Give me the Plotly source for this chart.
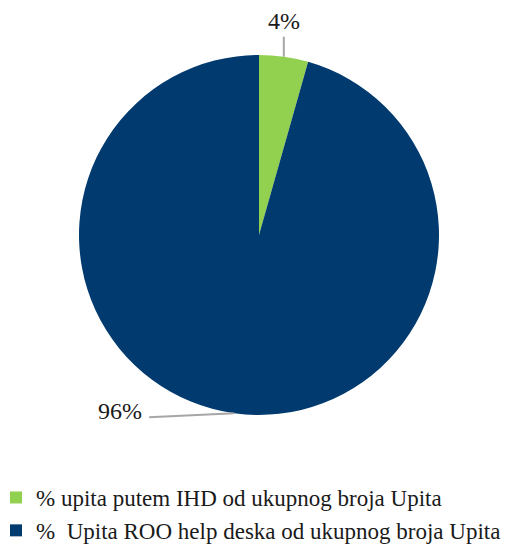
import math
import plotly.graph_objects as go

labels = ["% upita putem IHD od ukupnog broja Upita",
          "%\u00a0\u00a0Upita ROO help deska od ukupnog broja Upita"]
values = [4.4, 95.6]
text_labels = ["4%", "96%"]
colors = ["#92D050", "#003A6E"]

# page body has an 8px margin, so the plot is laid out in its own coordinates
W, H = 508, 544
cx, cy, R = 251, 227, 180
FONT = "Liberation Serif"
TXT = "#1a1a1a"

fig = go.Figure(go.Pie(
    labels=labels, values=values, sort=False, direction="clockwise", rotation=0,
    marker=dict(colors=colors, line=dict(width=0)),
    textinfo="none", hoverinfo="label+percent",
    domain=dict(x=[(cx - R) / W, (cx + R) / W], y=[1 - (cy + R) / H, 1 - (cy - R) / H]),
))

def px(x):
    return x / W

def py(y):
    return 1 - y / H

total = sum(values)
cum = 0
shapes, annotations = [], []
for i, v in enumerate(values):
    mid = (cum + v / 2) / total * 2 * math.pi
    cum += v
    ex = cx + R * math.sin(mid)
    ey = cy - R * math.cos(mid)
    if i == 0:
        lx, ly = ex, ey - 20
        annotations.append(dict(x=px(lx), y=py(ly - 1), xref="paper", yref="paper",
                                text=text_labels[i], showarrow=False, xanchor="center",
                                yanchor="bottom", font=dict(family=FONT, size=24, color=TXT)))
    else:
        lx, ly = ex - 85, ey + 4
        annotations.append(dict(x=px(lx - 5), y=py(ly - 6), xref="paper", yref="paper",
                                text=text_labels[i], showarrow=False, xanchor="right",
                                yanchor="middle", font=dict(family=FONT, size=24, color=TXT)))
    shapes.append(dict(type="line", xref="paper", yref="paper",
                       x0=px(ex), y0=py(ey), x1=px(lx), y1=py(ly),
                       line=dict(color="#A6A6A6", width=2)))

fig.update_layout(
    width=W, height=H,
    margin=dict(l=0, r=0, t=0, b=0, autoexpand=False),
    paper_bgcolor="white", plot_bgcolor="white",
    shapes=shapes, annotations=annotations,
    showlegend=True,
    legend=dict(x=-12 / W, xanchor="left", y=1 - 468 / H, yanchor="top",
                font=dict(family=FONT, size=23, color=TXT),
                traceorder="normal", bgcolor="rgba(0,0,0,0)"),
)

fig.write_html("out.html")
